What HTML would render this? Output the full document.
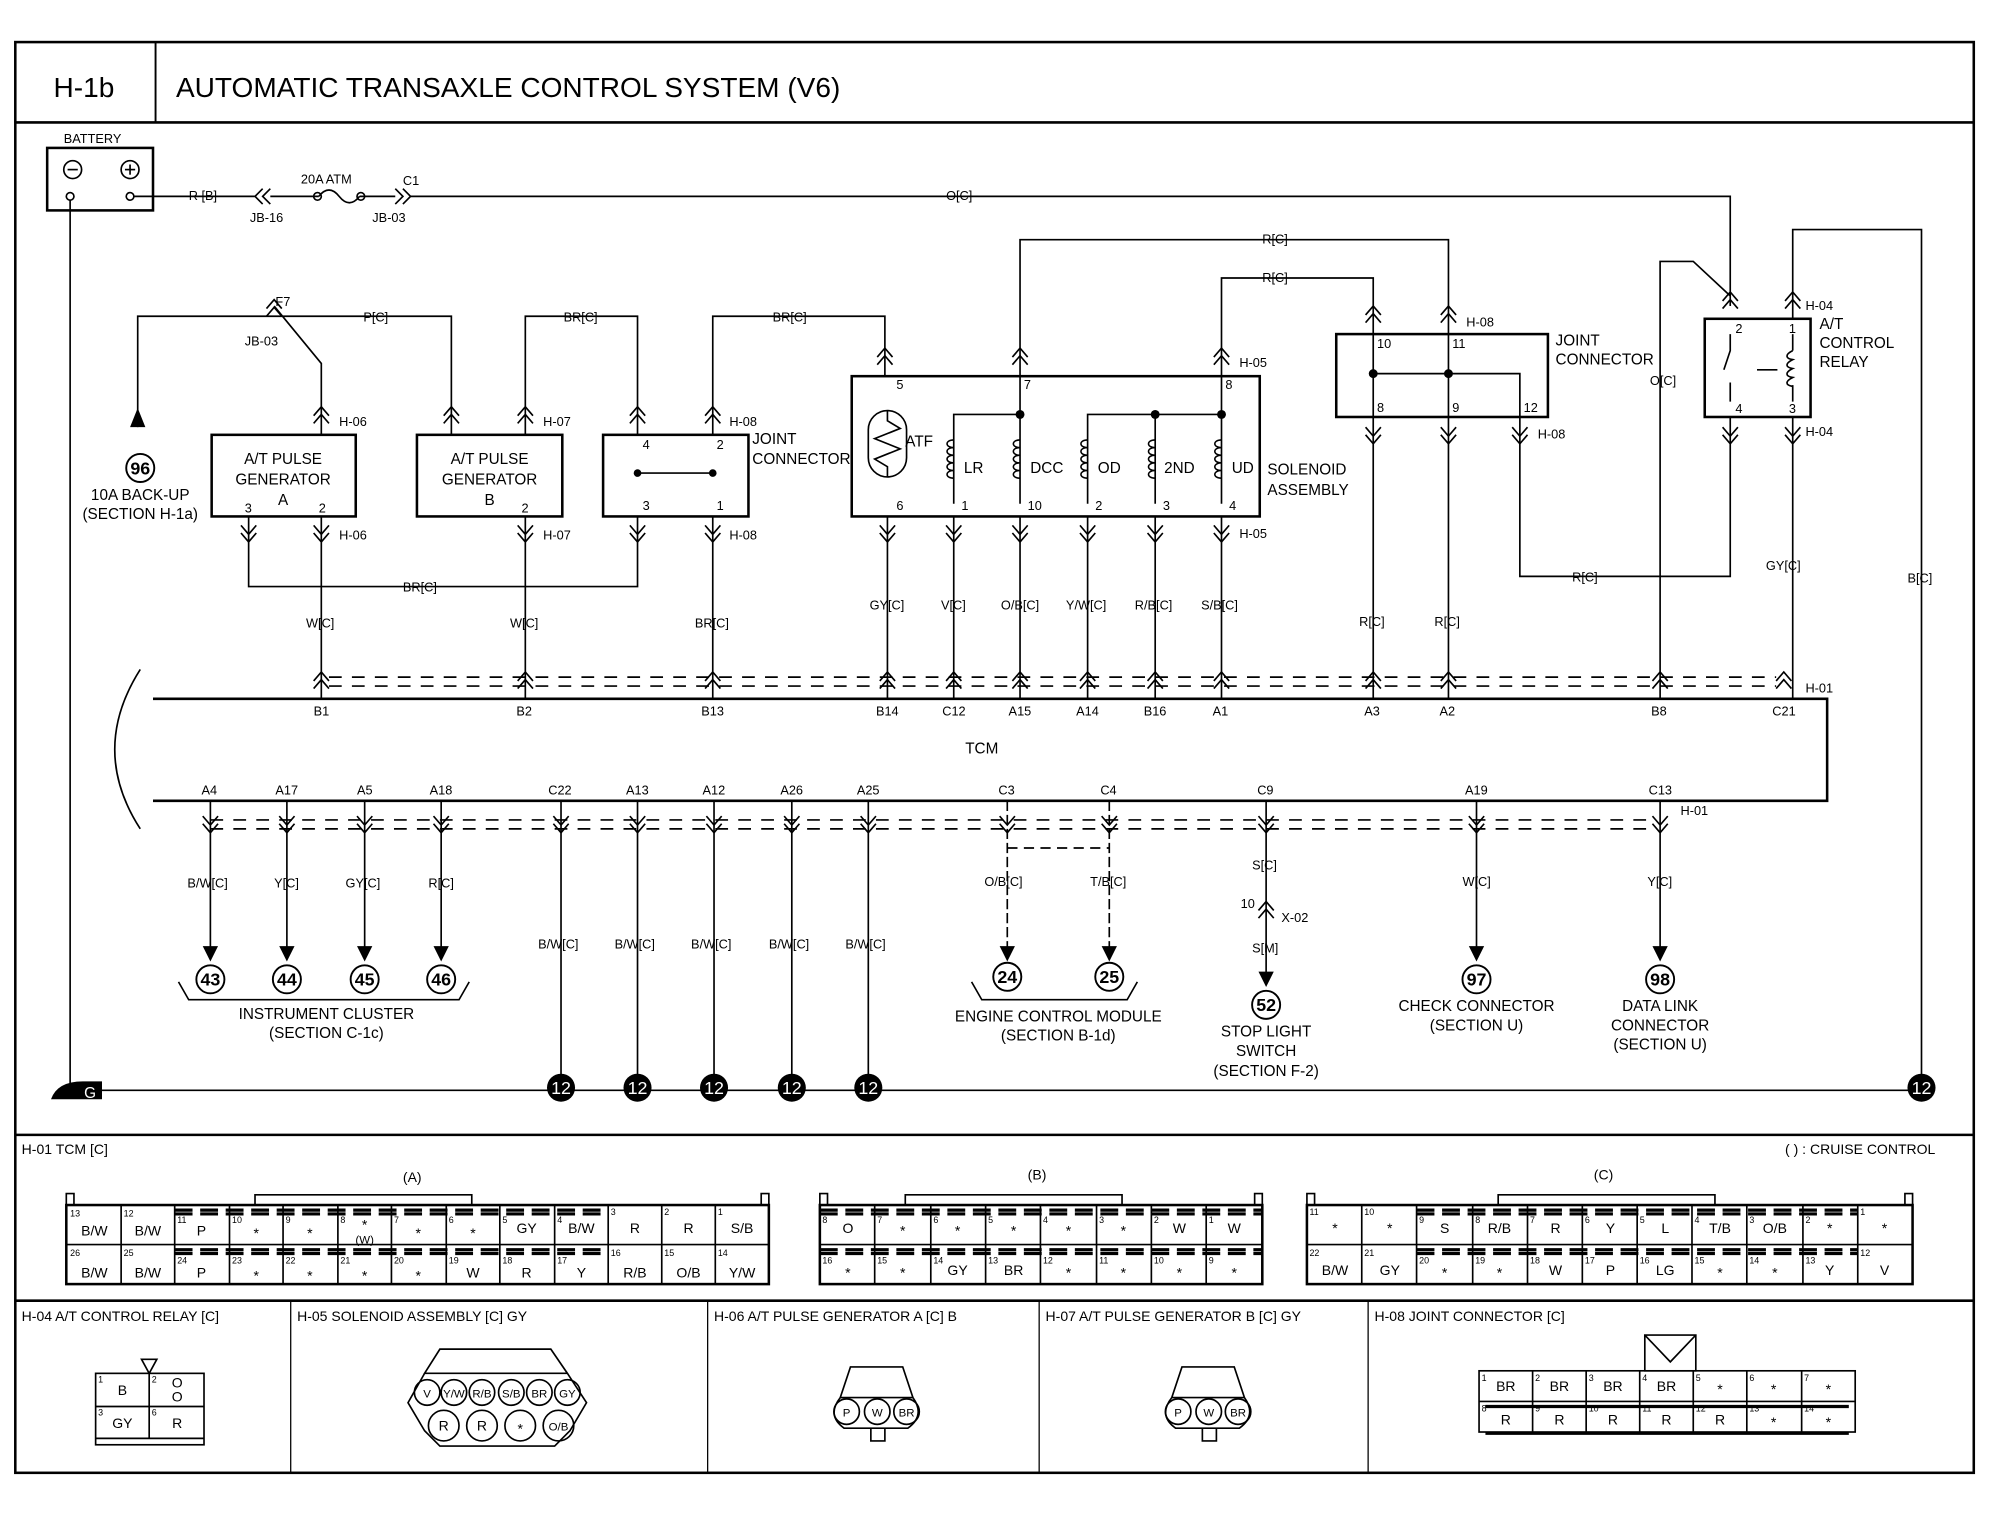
<!DOCTYPE html>
<html><head><meta charset="utf-8"><style>
html,body{margin:0;padding:0;background:#fff}
svg{display:block}
text{font-family:"Liberation Sans",sans-serif;fill:#000}
</style></head><body>
<svg width="1998" height="1520" viewBox="0 0 1567 1192" preserveAspectRatio="none" xmlns="http://www.w3.org/2000/svg">
<defs>
<g id="up" fill="none" stroke="#000" stroke-width="1.3"><path d="M-6,4 L0,-3 L6,4 M-6,10 L0,3 L6,10"/></g>
<g id="dn" fill="none" stroke="#000" stroke-width="1.3"><path d="M-6,-10 L0,-3 L6,-10 M-6,-4 L0,3 L6,-4"/></g>
</defs>
<rect width="1600" height="1200" fill="#fff"/>
<g fill="none" stroke="#000">
<rect x="12" y="33" width="1536" height="1122" stroke-width="2"/>
<line x1="12" y1="96" x2="1548" y2="96" stroke-width="2"/>
<line x1="122" y1="33" x2="122" y2="96" stroke-width="1.5"/>
<line x1="12" y1="890" x2="1548" y2="890" stroke-width="2"/>
<line x1="12" y1="1020" x2="1548" y2="1020" stroke-width="2"/>
<line x1="228" y1="1020" x2="228" y2="1155"/><line x1="555" y1="1020" x2="555" y2="1155"/>
<line x1="815" y1="1020" x2="815" y2="1155"/><line x1="1073" y1="1020" x2="1073" y2="1155"/>
</g>
<text x="42" y="76" font-size="22">H-1b</text>
<text x="138" y="76" font-size="22">AUTOMATIC TRANSAXLE CONTROL SYSTEM (V6)</text>

<g fill="none" stroke="#000" stroke-width="1.3">
<rect x="37" y="116" width="83" height="49" stroke-width="2"/>
<circle cx="57" cy="133" r="7"/><line x1="53" y1="133" x2="61" y2="133"/>
<circle cx="102" cy="133" r="7"/><line x1="98" y1="133" x2="106" y2="133"/><line x1="102" y1="129" x2="102" y2="137"/>
<circle cx="55" cy="154" r="3"/><circle cx="102" cy="154" r="3"/>
<line x1="55" y1="157" x2="55" y2="855"/>
<path d="M105,154 H200 M206,148 L200,154 L206,160 M212,148 L206,154 L212,160 M212,154 H250 M250,154 q8,-10 16,0 M266,154 q8,10 16,0 M282,154 H310 M310,148 L316,154 L310,160 M316,148 L322,154 L316,160 M322,154 H1357 V240"/>
<circle cx="249" cy="154" r="3"/><circle cx="283" cy="154" r="3"/>
<line x1="60" y1="855" x2="1510" y2="855"/>
<path d="M120,548 H1433 V628 H120" stroke-width="2"/>
<path d="M110,525 Q70,588 110,650"/>
<path d="M258,531 H1393 M258,538 H1393" stroke-dasharray="10,8"/>
<path d="M165,643 H1296 M165,650 H1296" stroke-dasharray="10,8"/>
<rect x="166" y="341" width="113" height="64" stroke-width="2"/>
<rect x="327" y="341" width="114" height="64" stroke-width="2"/>
<rect x="473" y="341" width="114" height="64" stroke-width="2"/>
<rect x="668" y="295" width="320" height="110" stroke-width="2"/>
<rect x="1048" y="262" width="166" height="65" stroke-width="2"/>
<rect x="1337" y="250" width="83" height="77" stroke-width="2"/>
<path d="M252,405 V548 M195,405 V460 H500 V405 M252,341 V285 L215,240 M108,335 V248 H354 V341"/>
<path d="M412,405 V548 M412,341 V248 H500 V341 M559,405 V548 M559,341 V248 H694 V295"/>
<line x1="500" y1="371" x2="559" y2="371"/>
<path d="M696,405 V548 M748,405 V548 M800,405 V548 M853,405 V548 M906,405 V548 M958,405 V548"/>
<path d="M800,295 V188 H1136 V262 M958,295 V218 H1077 V262"/>
<path d="M748,395 V325 H800 M800,295 V395 M853,395 V325 H958 M906,325 V395 M958,295 V395"/>
<rect x="681" y="322" width="30" height="52" rx="15"/>
<path d="M696,322 V330 L706,336 L686,344 L706,352 L686,360 L696,366 V374"/>
<path d="M1077,262 V548 M1136,262 V548 M1077,293 H1192 V327 M1192,327 V452 H1357 V327"/>
<path d="M1302,548 V205 H1328 L1357,232 M1406,250 V180 H1507 V855 M1406,327 V548"/>
<path d="M1357,262 V275 L1352,290 M1357,300 V315 M1406,262 V275 M1406,302 V315 M1378,290 H1394"/>
<path d="M1406,275 c-6,3 -6,6 0,7 c-6,3 -6,6 0,7 c-6,3 -6,6 0,7 c-6,3 -6,6 0,7" />
<path d="M165,628 V745 M225,628 V745 M286,628 V745 M346,628 V745"/>
<path d="M440,628 V855 M500,628 V855 M560,628 V855 M621,628 V855 M681,628 V855"/>
<path d="M790,628 V745 M870,628 V745" stroke-dasharray="8,3"/>
<path d="M790,665 H870" stroke-dasharray="8,5"/>
<path d="M993,628 V765 M1158,628 V745 M1302,628 V745"/>
<path d="M140,770 l8,14 H360 l8,-14 M762,770 l8,14 H884 l8,-14"/>
</g>
<g fill="#000">
<path d="M108,320 l-6,15 h12 z"/>
<path d="M159,742 h12 l-6,12 z M219,742 h12 l-6,12 z M280,742 h12 l-6,12 z M340,742 h12 l-6,12 z M784,742 h12 l-6,12 z M864,742 h12 l-6,12 z M987,762 h12 l-6,12 z M1152,742 h12 l-6,12 z M1296,742 h12 l-6,12 z"/>
<circle cx="500" cy="371" r="3"/><circle cx="559" cy="371" r="3"/>
<circle cx="800" cy="325" r="3.5"/><circle cx="906" cy="325" r="3.5"/><circle cx="958" cy="325" r="3.5"/>
<circle cx="1077" cy="293" r="3.5"/><circle cx="1136" cy="293" r="3.5"/>
<path d="M40,862 q5,-14 25,-14 h15 v14 z"/>
</g>
<g fill="none" stroke="#000" stroke-width="1.2">
<path id="coil" d="M748,345 c-7,0 -7,6 0,6 c-7,0 -7,6 0,6 c-7,0 -7,6 0,6 c-7,0 -7,6 0,6 c-7,0 -7,6 0,6"/>
<use href="#coil" x="52"/><use href="#coil" x="105"/><use href="#coil" x="158"/><use href="#coil" x="210"/>
</g>
<use href="#up" x="252" y="322"/><use href="#up" x="354" y="322"/><use href="#up" x="412" y="322"/><use href="#up" x="500" y="322"/><use href="#up" x="559" y="322"/>
<use href="#dn" x="195" y="422"/><use href="#dn" x="252" y="422"/><use href="#dn" x="412" y="422"/><use href="#dn" x="500" y="422"/><use href="#dn" x="559" y="422"/>
<use href="#up" x="694" y="276"/><use href="#up" x="800" y="276"/><use href="#up" x="958" y="276"/>
<use href="#dn" x="696" y="422"/><use href="#dn" x="748" y="422"/><use href="#dn" x="800" y="422"/><use href="#dn" x="853" y="422"/><use href="#dn" x="906" y="422"/><use href="#dn" x="958" y="422"/>
<use href="#up" x="1077" y="243"/><use href="#up" x="1136" y="243"/>
<use href="#dn" x="1077" y="345"/><use href="#dn" x="1136" y="345"/><use href="#dn" x="1192" y="345"/>
<use href="#up" x="1357" y="232"/><use href="#up" x="1406" y="232"/>
<use href="#dn" x="1357" y="345"/><use href="#dn" x="1406" y="345"/>
<use href="#up" x="215" y="238"/>
<use href="#up" x="252" y="530"/><use href="#up" x="412" y="530"/><use href="#up" x="559" y="530"/><use href="#up" x="696" y="530"/><use href="#up" x="748" y="530"/><use href="#up" x="800" y="530"/><use href="#up" x="853" y="530"/><use href="#up" x="906" y="530"/><use href="#up" x="958" y="530"/><use href="#up" x="1077" y="530"/><use href="#up" x="1136" y="530"/><use href="#up" x="1302" y="530"/><use href="#up" x="1399" y="530"/>
<use href="#dn" x="165" y="650"/><use href="#dn" x="225" y="650"/><use href="#dn" x="286" y="650"/><use href="#dn" x="346" y="650"/><use href="#dn" x="440" y="650"/><use href="#dn" x="500" y="650"/><use href="#dn" x="560" y="650"/><use href="#dn" x="621" y="650"/><use href="#dn" x="681" y="650"/><use href="#dn" x="790" y="650"/><use href="#dn" x="870" y="650"/><use href="#dn" x="993" y="650"/><use href="#dn" x="1158" y="650"/><use href="#dn" x="1302" y="650"/>
<use href="#up" x="993" y="710"/>

<g fill="none" stroke="#000" stroke-width="1.5">
<circle cx="110" cy="367" r="11"/><circle cx="165" cy="768" r="11"/><circle cx="225" cy="768" r="11"/><circle cx="286" cy="768" r="11"/><circle cx="346" cy="768" r="11"/>
<circle cx="790" cy="766" r="11"/><circle cx="870" cy="766" r="11"/><circle cx="993" cy="788" r="11"/><circle cx="1158" cy="768" r="11"/><circle cx="1302" cy="768" r="11"/>
</g>
<g fill="#000"><circle cx="440" cy="853" r="11"/><circle cx="500" cy="853" r="11"/><circle cx="560" cy="853" r="11"/><circle cx="621" cy="853" r="11"/><circle cx="681" cy="853" r="11"/><circle cx="1507" cy="853" r="11"/></g>
<g font-size="14" text-anchor="middle" font-weight="bold">
<text x="110" y="372">96</text><text x="165" y="773">43</text><text x="225" y="773">44</text><text x="286" y="773">45</text><text x="346" y="773">46</text>
<text x="790" y="771">24</text><text x="870" y="771">25</text><text x="993" y="793">52</text><text x="1158" y="773">97</text><text x="1302" y="773">98</text>
</g>
<g font-size="14" text-anchor="middle">
<text x="440" y="858" style="fill:#fff">12</text><text x="500" y="858" style="fill:#fff">12</text><text x="560" y="858" style="fill:#fff">12</text><text x="621" y="858" style="fill:#fff">12</text><text x="681" y="858" style="fill:#fff">12</text><text x="1507" y="858" style="fill:#fff">12</text>
</g>

<g font-size="10">
<text x="50" y="112">BATTERY</text>
<text x="148" y="157">R [B]</text><text x="196" y="174">JB-16</text><text x="236" y="144">20A ATM</text><text x="316" y="145">C1</text><text x="292" y="174">JB-03</text>
<text x="742" y="157">O[C]</text><text x="990" y="191">R[C]</text><text x="990" y="221">R[C]</text>
<text x="216" y="240">F7</text><text x="192" y="271">JB-03</text><text x="285" y="252">P[C]</text><text x="442" y="252">BR[C]</text><text x="606" y="252">BR[C]</text>
<text x="266" y="334">H-06</text><text x="426" y="334">H-07</text><text x="572" y="334">H-08</text>
<text x="266" y="423">H-06</text><text x="426" y="423">H-07</text><text x="572" y="423">H-08</text>
<text x="972" y="288">H-05</text><text x="972" y="422">H-05</text>
<text x="1150" y="256">H-08</text><text x="1206" y="344">H-08</text>
<text x="1416" y="243">H-04</text><text x="1416" y="342">H-04</text>
<text x="316" y="464">BR[C]</text><text x="240" y="492">W[C]</text><text x="400" y="492">W[C]</text><text x="545" y="492">BR[C]</text>
<text x="682" y="478">GY[C]</text><text x="738" y="478">V[C]</text><text x="785" y="478">O/B[C]</text><text x="836" y="478">Y/W[C]</text><text x="890" y="478">R/B[C]</text><text x="942" y="478">S/B[C]</text>
<text x="1066" y="491">R[C]</text><text x="1125" y="491">R[C]</text><text x="1233" y="456">R[C]</text><text x="1294" y="302">O[C]</text><text x="1385" y="447">GY[C]</text><text x="1496" y="457">B[C]</text>
<text x="1416" y="543">H-01</text><text x="1318" y="639">H-01</text>
<text x="246" y="561">B1</text><text x="405" y="561">B2</text><text x="550" y="561">B13</text><text x="687" y="561">B14</text><text x="739" y="561">C12</text><text x="791" y="561">A15</text><text x="844" y="561">A14</text><text x="897" y="561">B16</text><text x="951" y="561">A1</text><text x="1070" y="561">A3</text><text x="1129" y="561">A2</text><text x="1295" y="561">B8</text><text x="1390" y="561">C21</text>
<text x="757" y="591" font-size="12">TCM</text>
<text x="158" y="623">A4</text><text x="216" y="623">A17</text><text x="280" y="623">A5</text><text x="337" y="623">A18</text><text x="430" y="623">C22</text><text x="491" y="623">A13</text><text x="551" y="623">A12</text><text x="612" y="623">A26</text><text x="672" y="623">A25</text><text x="783" y="623">C3</text><text x="863" y="623">C4</text><text x="986" y="623">C9</text><text x="1149" y="623">A19</text><text x="1293" y="623">C13</text>
<text x="147" y="696">B/W[C]</text><text x="215" y="696">Y[C]</text><text x="271" y="696">GY[C]</text><text x="336" y="696">R[C]</text>
<text x="422" y="744">B/W[C]</text><text x="482" y="744">B/W[C]</text><text x="542" y="744">B/W[C]</text><text x="603" y="744">B/W[C]</text><text x="663" y="744">B/W[C]</text>
<text x="772" y="695">O/B[C]</text><text x="855" y="695">T/B[C]</text><text x="982" y="682">S[C]</text><text x="973" y="712">10</text><text x="1005" y="723">X-02</text><text x="982" y="747">S[M]</text>
<text x="1147" y="695">W[C]</text><text x="1292" y="695">Y[C]</text>
<text x="703" y="305">5</text><text x="803" y="305">7</text><text x="961" y="305">8</text>
<text x="703" y="400">6</text><text x="754" y="400">1</text><text x="806" y="400">10</text><text x="859" y="400">2</text><text x="912" y="400">3</text><text x="964" y="400">4</text>
<text x="192" y="402">3</text><text x="250" y="402">2</text><text x="409" y="402">2</text>
<text x="504" y="352">4</text><text x="562" y="352">2</text><text x="504" y="400">3</text><text x="562" y="400">1</text>
<text x="1080" y="273">10</text><text x="1139" y="273">11</text><text x="1080" y="323">8</text><text x="1139" y="323">9</text><text x="1195" y="323">12</text>
<text x="1361" y="261">2</text><text x="1403" y="261">1</text><text x="1361" y="324">4</text><text x="1403" y="324">3</text>
</g>
<g font-size="12">
<text x="710" y="350">ATF</text><text x="756" y="371">LR</text><text x="808" y="371">DCC</text><text x="861" y="371">OD</text><text x="913" y="371">2ND</text><text x="966" y="371">UD</text>
<text x="994" y="372">SOLENOID</text><text x="994" y="388">ASSEMBLY</text>
<text x="590" y="348">JOINT</text><text x="590" y="364">CONNECTOR</text>
<text x="1220" y="271">JOINT</text><text x="1220" y="286">CONNECTOR</text>
<text x="1427" y="258">A/T</text><text x="1427" y="273">CONTROL</text><text x="1427" y="288">RELAY</text>
</g>
<g font-size="12" text-anchor="middle">
<text x="222" y="364">A/T PULSE</text><text x="222" y="380">GENERATOR</text><text x="222" y="396">A</text>
<text x="384" y="364">A/T PULSE</text><text x="384" y="380">GENERATOR</text><text x="384" y="396">B</text>
<text x="110" y="392">10A BACK-UP</text><text x="110" y="407">(SECTION H-1a)</text>
<text x="256" y="799">INSTRUMENT CLUSTER</text><text x="256" y="814">(SECTION C-1c)</text>
<text x="830" y="801">ENGINE CONTROL MODULE</text><text x="830" y="816">(SECTION B-1d)</text>
<text x="993" y="813">STOP LIGHT</text><text x="993" y="828">SWITCH</text><text x="993" y="844">(SECTION F-2)</text>
<text x="1158" y="793">CHECK CONNECTOR</text><text x="1158" y="808">(SECTION U)</text>
<text x="1302" y="793">DATA LINK</text><text x="1302" y="808">CONNECTOR</text><text x="1302" y="823">(SECTION U)</text>
</g>
<text x="66" y="861" font-size="12" style="fill:#fff">G</text>

<g font-size="11">
<text x="17" y="905">H-01 TCM [C]</text><text x="1400" y="905">(    ) : CRUISE CONTROL</text>
<text x="316" y="927">(A)</text><text x="806" y="925">(B)</text><text x="1250" y="925">(C)</text>
<text x="17" y="1036">H-04 A/T CONTROL RELAY [C]</text><text x="233" y="1036">H-05 SOLENOID ASSEMBLY [C] GY</text><text x="560" y="1036">H-06 A/T PULSE GENERATOR A [C] B</text><text x="820" y="1036">H-07 A/T PULSE GENERATOR B [C] GY</text><text x="1078" y="1036">H-08 JOINT CONNECTOR [C]</text>
</g>
<g fill="none" stroke="#000" stroke-width="1.3">
<rect x="52" y="945" width="551" height="62" stroke-width="2"/><line x1="52" y1="976" x2="603" y2="976"/>
<path d="M200,945 V937 H370 V945 M52,945 V936 H58 V945 M597,945 V936 H603 V945"/>
<path d="M95,945V1007M137,945V1007M180,945V1007M222,945V1007M265,945V1007M307,945V1007M350,945V1007M392,945V1007M435,945V1007M477,945V1007M519,945V1007M561,945V1007"/>
<path d="M137,949H477M137,952H477M137,980H477M137,983H477" stroke-width="2.5" stroke-dasharray="14,6"/>
<rect x="643" y="945" width="347" height="62" stroke-width="2"/><line x1="643" y1="976" x2="990" y2="976"/>
<path d="M710,945 V937 H880 V945 M643,945 V936 H649 V945 M984,945 V936 H990 V945"/>
<path d="M686,945V1007M730,945V1007M773,945V1007M816,945V1007M860,945V1007M903,945V1007M946,945V1007"/>
<path d="M643,949H990M643,952H990M643,980H990M643,983H990" stroke-width="2.5" stroke-dasharray="14,6"/>
<rect x="1025" y="945" width="475" height="62" stroke-width="2"/><line x1="1025" y1="976" x2="1500" y2="976"/>
<path d="M1175,945 V937 H1345 V945 M1025,945 V936 H1031 V945 M1494,945 V936 H1500 V945"/>
<path d="M1068,945V1007M1111,945V1007M1155,945V1007M1198,945V1007M1241,945V1007M1284,945V1007M1327,945V1007M1370,945V1007M1414,945V1007M1457,945V1007"/>
<path d="M1111,949H1457M1111,952H1457M1111,980H1457M1111,983H1457" stroke-width="2.5" stroke-dasharray="14,6"/>
<rect x="75" y="1077" width="85" height="56"/><line x1="75" y1="1103" x2="160" y2="1103"/><line x1="117" y1="1077" x2="117" y2="1128"/><line x1="75" y1="1128" x2="160" y2="1128"/>
<path d="M111,1066 h12 l-6,11 z"/>
<path d="M345,1058 H432 L445,1077 H333 Z M333,1077 L320,1100 L333,1122 L345,1134 H435 L447,1122 L460,1100 L445,1077"/>
<circle cx="335" cy="1092" r="10"/><circle cx="356" cy="1092" r="10"/><circle cx="378" cy="1092" r="10"/><circle cx="401" cy="1092" r="10"/><circle cx="423" cy="1092" r="10"/><circle cx="445" cy="1092" r="10"/>
<circle cx="348" cy="1118" r="12"/><circle cx="378" cy="1118" r="12"/><circle cx="408" cy="1118" r="12"/><circle cx="438" cy="1118" r="12"/>
<path d="M667,1072 H708 L716,1096 H659 Z M659,1096 Q648,1110 662,1120 H712 Q726,1110 716,1096 M683,1120 V1130 H694 V1120"/>
<circle cx="664" cy="1107" r="10"/><circle cx="688" cy="1107" r="10"/><circle cx="711" cy="1107" r="10"/>
<path d="M927,1072 H968 L976,1096 H919 Z M919,1096 Q908,1110 922,1120 H972 Q986,1110 976,1096 M943,1120 V1130 H954 V1120"/>
<circle cx="924" cy="1107" r="10"/><circle cx="948" cy="1107" r="10"/><circle cx="971" cy="1107" r="10"/>
<rect x="1160" y="1075" width="295" height="48"/><line x1="1160" y1="1099" x2="1455" y2="1099"/>
<path d="M1202,1075V1123M1244,1075V1123M1286,1075V1123M1328,1075V1123M1370,1075V1123M1413,1075V1123"/>
<path d="M1290,1047 H1330 V1075 H1290 Z M1290,1047 L1310,1068 L1330,1047"/>
<line x1="1165" y1="1103" x2="1450" y2="1103" stroke-width="2.5"/><line x1="1165" y1="1124" x2="1450" y2="1124" stroke-width="2.5"/>
</g>
<g font-size="11" text-anchor="middle">
<text x="74" y="969">B/W</text><text x="116" y="969">B/W</text><text x="158" y="969">P</text><text x="201" y="971">*</text><text x="243" y="971">*</text><text x="286" y="964">*</text><text x="286" y="975" font-size="9">(W)</text><text x="328" y="971">*</text><text x="371" y="971">*</text><text x="413" y="967">GY</text><text x="456" y="967">B/W</text><text x="498" y="967">R</text><text x="540" y="967">R</text><text x="582" y="967">S/B</text>
<text x="74" y="1002">B/W</text><text x="116" y="1002">B/W</text><text x="158" y="1002">P</text><text x="201" y="1004">*</text><text x="243" y="1004">*</text><text x="286" y="1004">*</text><text x="328" y="1004">*</text><text x="371" y="1002">W</text><text x="413" y="1002">R</text><text x="456" y="1002">Y</text><text x="498" y="1002">R/B</text><text x="540" y="1002">O/B</text><text x="582" y="1002">Y/W</text>
<text x="665" y="967">O</text><text x="708" y="969">*</text><text x="751" y="969">*</text><text x="795" y="969">*</text><text x="838" y="969">*</text><text x="881" y="969">*</text><text x="925" y="967">W</text><text x="968" y="967">W</text>
<text x="665" y="1002">*</text><text x="708" y="1002">*</text><text x="751" y="1000">GY</text><text x="795" y="1000">BR</text><text x="838" y="1002">*</text><text x="881" y="1002">*</text><text x="925" y="1002">*</text><text x="968" y="1002">*</text>
<text x="1047" y="967">*</text><text x="1090" y="967">*</text><text x="1133" y="967">S</text><text x="1176" y="967">R/B</text><text x="1220" y="967">R</text><text x="1263" y="967">Y</text><text x="1306" y="967">L</text><text x="1349" y="967">T/B</text><text x="1392" y="967">O/B</text><text x="1435" y="967">*</text><text x="1478" y="967">*</text>
<text x="1047" y="1000">B/W</text><text x="1090" y="1000">GY</text><text x="1133" y="1002">*</text><text x="1176" y="1002">*</text><text x="1220" y="1000">W</text><text x="1263" y="1000">P</text><text x="1306" y="1000">LG</text><text x="1349" y="1002">*</text><text x="1392" y="1002">*</text><text x="1435" y="1000">Y</text><text x="1478" y="1000">V</text>
<text x="96" y="1094">B</text><text x="139" y="1088">O</text><text x="139" y="1099">O</text><text x="96" y="1120">GY</text><text x="139" y="1120">R</text>
<text x="335" y="1096" font-size="9">V</text><text x="356" y="1096" font-size="9">Y/W</text><text x="378" y="1096" font-size="9">R/B</text><text x="401" y="1096" font-size="9">S/B</text><text x="423" y="1096" font-size="9">BR</text><text x="445" y="1096" font-size="9">GY</text>
<text x="348" y="1122">R</text><text x="378" y="1122">R</text><text x="408" y="1124">*</text><text x="438" y="1122" font-size="9">O/B</text>
<text x="664" y="1111" font-size="9">P</text><text x="688" y="1111" font-size="9">W</text><text x="711" y="1111" font-size="9">BR</text>
<text x="924" y="1111" font-size="9">P</text><text x="948" y="1111" font-size="9">W</text><text x="971" y="1111" font-size="9">BR</text>
<text x="1181" y="1091">BR</text><text x="1223" y="1091">BR</text><text x="1265" y="1091">BR</text><text x="1307" y="1091">BR</text><text x="1349" y="1093">*</text><text x="1391" y="1093">*</text><text x="1434" y="1093">*</text>
<text x="1181" y="1117">R</text><text x="1223" y="1117">R</text><text x="1265" y="1117">R</text><text x="1307" y="1117">R</text><text x="1349" y="1117">R</text><text x="1391" y="1119">*</text><text x="1434" y="1119">*</text>
</g>
<g font-size="7">
<text x="55" y="954">13</text><text x="97" y="954">12</text><text x="139" y="959">11</text><text x="182" y="959">10</text><text x="224" y="959">9</text><text x="267" y="959">8</text><text x="309" y="959">7</text><text x="352" y="959">6</text><text x="394" y="959">5</text><text x="437" y="959">4</text><text x="479" y="953">3</text><text x="521" y="953">2</text><text x="563" y="953">1</text>
<text x="55" y="985">26</text><text x="97" y="985">25</text><text x="139" y="991">24</text><text x="182" y="991">23</text><text x="224" y="991">22</text><text x="267" y="991">21</text><text x="309" y="991">20</text><text x="352" y="991">19</text><text x="394" y="991">18</text><text x="437" y="991">17</text><text x="479" y="985">16</text><text x="521" y="985">15</text><text x="563" y="985">14</text>
<text x="645" y="959">8</text><text x="688" y="959">7</text><text x="732" y="959">6</text><text x="775" y="959">5</text><text x="818" y="959">4</text><text x="862" y="959">3</text><text x="905" y="959">2</text><text x="948" y="959">1</text>
<text x="645" y="991">16</text><text x="688" y="991">15</text><text x="732" y="991">14</text><text x="775" y="991">13</text><text x="818" y="991">12</text><text x="862" y="991">11</text><text x="905" y="991">10</text><text x="948" y="991">9</text>
<text x="1027" y="953">11</text><text x="1070" y="953">10</text><text x="1113" y="959">9</text><text x="1157" y="959">8</text><text x="1200" y="959">7</text><text x="1243" y="959">6</text><text x="1286" y="959">5</text><text x="1329" y="959">4</text><text x="1372" y="959">3</text><text x="1416" y="959">2</text><text x="1459" y="953">1</text>
<text x="1027" y="985">22</text><text x="1070" y="985">21</text><text x="1113" y="991">20</text><text x="1157" y="991">19</text><text x="1200" y="991">18</text><text x="1243" y="991">17</text><text x="1286" y="991">16</text><text x="1329" y="991">15</text><text x="1372" y="991">14</text><text x="1416" y="991">13</text><text x="1459" y="985">12</text>
<text x="77" y="1084">1</text><text x="119" y="1084">2</text><text x="77" y="1110">3</text><text x="119" y="1110">6</text>
<text x="1162" y="1083">1</text><text x="1204" y="1083">2</text><text x="1246" y="1083">3</text><text x="1288" y="1083">4</text><text x="1330" y="1083">5</text><text x="1372" y="1083">6</text><text x="1415" y="1083">7</text>
<text x="1162" y="1107">8</text><text x="1204" y="1107">9</text><text x="1246" y="1107">10</text><text x="1288" y="1107">11</text><text x="1330" y="1107">12</text><text x="1372" y="1107">13</text><text x="1415" y="1107">14</text>
</g>
</svg>
</body></html>
